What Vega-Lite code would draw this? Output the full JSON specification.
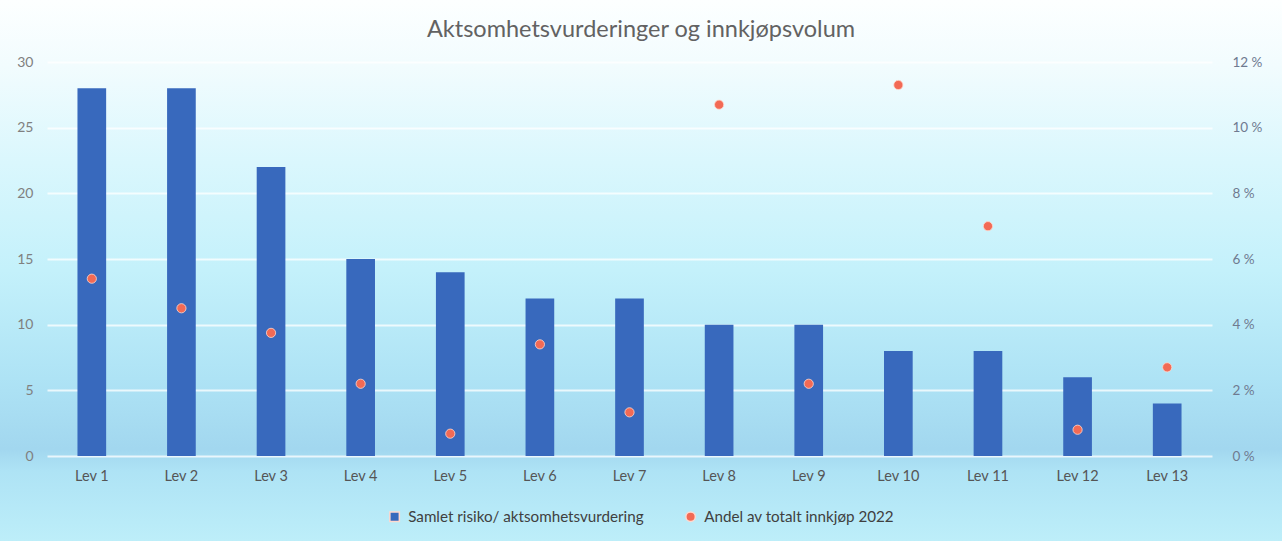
{
  "$schema": "https://vega.github.io/schema/vega-lite/v6.json",
  "width": 1282,
  "height": 541,
  "autosize": "none",
  "padding": 0,
  "background": "#d6f4fb",
  "title": {
    "text": "Aktsomhetsvurderinger og innkjøpsvolum",
    "anchor": "middle",
    "offset": -37,
    "dy": 23,
    "baseline": "alphabetic",
    "font": "Lato",
    "fontSize": 23.5,
    "fontWeight": "normal",
    "color": "#626262"
  },
  "data": {
    "values": [
      {"lev": "Lev 1", "risiko": 28, "andel": 0.054},
      {"lev": "Lev 2", "risiko": 28, "andel": 0.045},
      {"lev": "Lev 3", "risiko": 22, "andel": 0.0375},
      {"lev": "Lev 4", "risiko": 15, "andel": 0.022},
      {"lev": "Lev 5", "risiko": 14, "andel": 0.0068},
      {"lev": "Lev 6", "risiko": 12, "andel": 0.034},
      {"lev": "Lev 7", "risiko": 12, "andel": 0.0133},
      {"lev": "Lev 8", "risiko": 10, "andel": 0.107},
      {"lev": "Lev 9", "risiko": 10, "andel": 0.022},
      {"lev": "Lev 10", "risiko": 8, "andel": 0.113},
      {"lev": "Lev 11", "risiko": 8, "andel": 0.07},
      {"lev": "Lev 12", "risiko": 6, "andel": 0.008},
      {"lev": "Lev 13", "risiko": 4, "andel": 0.027}
    ]
  },
  "encoding": {
    "x": {
      "field": "lev",
      "type": "nominal",
      "sort": null,
      "scale": {"range": [47, 1212], "paddingInner": 0.68, "paddingOuter": 0.34},
      "axis": {
        "title": null,
        "orient": "bottom",
        "offset": -85,
        "labelAngle": 0,
        "labelPadding": 13,
        "ticks": false,
        "tickSize": 0,
        "domain": false,
        "labelFont": "Lato",
        "labelFontSize": 14.5,
        "labelColor": "#555555"
      }
    }
  },
  "layer": [
    {
      "mark": {"type": "bar", "color": "#3869bd"},
      "encoding": {
        "y": {
          "field": "risiko",
          "type": "quantitative",
          "scale": {"domain": [0, 30], "range": [456, 62], "nice": false},
          "axis": {
            "title": null,
            "orient": "left",
            "offset": -45,
            "values": [0, 5, 10, 15, 20, 25, 30],
            "grid": true,
            "gridColor": "#ffffff",
            "gridWidth": 2,
            "gridOpacity": 0.75,
            "ticks": false,
            "tickSize": 0,
            "domain": false,
            "labelPadding": 12,
            "labelFont": "Lato",
            "labelFontSize": 14,
            "labelColor": "#808080"
          }
        },
        "color": {
          "datum": "Samlet risiko/ aktsomhetsvurdering",
          "type": "nominal",
          "scale": {
            "domain": ["Samlet risiko/ aktsomhetsvurdering", "Andel av totalt innkjøp 2022"],
            "range": ["#3869bd", "#f26a55"]
          },
          "legend": {
            "title": null,
            "orient": "none",
            "direction": "horizontal",
            "legendX": 387,
            "legendY": 509,
            "columnPadding": 38,
            "symbolSize": 90,
            "labelLimit": 500,
            "labelFont": "Lato",
            "labelFontSize": 15.2,
            "labelColor": "#404040",
            "labelOffset": 6
          }
        }
      }
    },
    {
      "mark": {"type": "point", "filled": true, "opacity": 1, "size": 85, "stroke": "#ffd9cf", "strokeWidth": 0.8},
      "encoding": {
        "y": {
          "field": "andel",
          "type": "quantitative",
          "scale": {"domain": [0, 0.12], "range": [456, 62], "nice": false},
          "axis": {
            "title": null,
            "orient": "right",
            "offset": -70,
            "values": [0, 0.02, 0.04, 0.06, 0.08, 0.1, 0.12],
            "labelExpr": "format(datum.value * 100, 'd') + ' %'",
            "grid": false,
            "ticks": false,
            "tickSize": 0,
            "domain": false,
            "labelPadding": 20,
            "labelFont": "Lato",
            "labelFontSize": 13.5,
            "labelColor": "#6f7a90"
          }
        },
        "color": {"datum": "Andel av totalt innkjøp 2022", "type": "nominal"},
        "shape": {
          "datum": "Andel av totalt innkjøp 2022",
          "type": "nominal",
          "scale": {
            "domain": ["Samlet risiko/ aktsomhetsvurdering", "Andel av totalt innkjøp 2022"],
            "range": ["square", "circle"]
          }
        }
      }
    }
  ],
  "resolve": {"scale": {"y": "independent"}},
  "config": {
    "view": {
      "stroke": null,
      "fill": {
        "gradient": "linear",
        "x1": 0, "y1": 0, "x2": 0, "y2": 1,
        "stops": [
          {"offset": 0, "color": "#fdffff"},
          {"offset": 0.12, "color": "#f2fcfe"},
          {"offset": 0.3, "color": "#daf7fd"},
          {"offset": 0.5, "color": "#c4f1fb"},
          {"offset": 0.7, "color": "#aee3f5"},
          {"offset": 0.83, "color": "#a2d7ef"},
          {"offset": 0.87, "color": "#aee3f5"},
          {"offset": 1, "color": "#bdeef9"}
        ]
      }
    }
  }
}
